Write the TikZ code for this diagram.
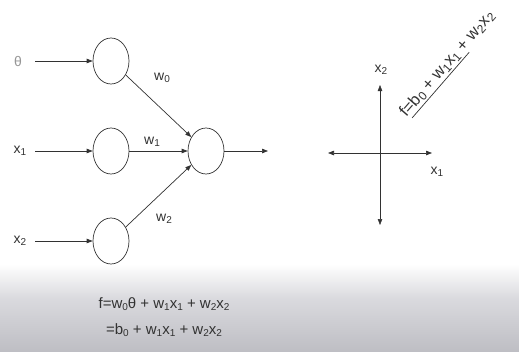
\documentclass[tikz,border=0pt]{standalone}
\usepackage{fontspec}
\setmainfont{Liberation Sans}
\usetikzlibrary{arrows.meta,shapes.geometric,calc}
\definecolor{ink}{RGB}{50,50,50}
\definecolor{lite}{RGB}{150,150,150}
\definecolor{bandA}{RGB}{218,218,222}
\definecolor{bandB}{RGB}{190,190,196}
\newcommand\sbx[1]{\raisebox{-0.3ex}{\fontsize{10}{10}\selectfont #1}}
\newcommand\sbd[1]{\raisebox{-0.3ex}{\fontsize{12}{12}\selectfont #1}}
\begin{document}
\begin{tikzpicture}[x=1pt,y=-1pt,
  neuron/.style={ellipse, draw=ink, line width=0.7pt, minimum width=36pt, minimum height=46pt, inner sep=0pt},
  lbl/.style={text=ink, font=\fontsize{14}{14}\selectfont, inner sep=1pt},
  tip/.style={-{Triangle[length=6pt,width=4.5pt]}},
  conn/.style={draw=ink, line width=0.7pt, tip}]
\useasboundingbox (0,0) rectangle (519,351);
\shade[top color=white, bottom color=bandA] (0,264) rectangle (519,298);
\shade[top color=bandA, bottom color=bandB] (0,298) rectangle (519,351);
% neurons
\node[neuron] (n0) at (111,61) {};
\node[neuron] (n1) at (111,151) {};
\node[neuron] (n2) at (111,241) {};
\node[neuron] (out) at (206,151) {};
% inputs
\node[lbl, text=lite] (t) at (18,61) {θ};
\node[lbl] (x1) at (20,151) {x\sbx{1}};
\node[lbl] (x2) at (20,241) {x\sbx{2}};
\coordinate (s0) at (35,61);
\coordinate (s1) at (35,151);
\coordinate (s2) at (35,241);
\draw[conn] (s0) -- (n0);
\draw[conn] (s1) -- (n1);
\draw[conn] (s2) -- (n2);
% weights
\draw[conn] (n0) -- (out);
\draw[conn] (n1) -- (out);
\draw[conn] (n2) -- (out);
\node[lbl] (w0) at (162,78) {w\sbx{0}};
\node[lbl] (w1) at (152,142) {w\sbx{1}};
\node[lbl] (w2) at (164,219) {w\sbx{2}};
\coordinate (o) at (268,151);
\draw[conn] (out) -- (o);
% axes
\coordinate (aL) at (328,153);
\coordinate (aR) at (432,153);
\coordinate (aT) at (380,85);
\coordinate (aB) at (380,225);
\draw[conn, {Triangle[length=6pt,width=4.5pt]}-{Triangle[length=6pt,width=4.5pt]}] (aL) -- (aR);
\draw[conn, line width=0.5pt, {Triangle[length=6pt,width=4.5pt]}-{Triangle[length=6pt,width=4.5pt]}] (aT) -- (aB);
\node[lbl] (ax2) at (381,70) {x\sbx{2}};
\node[lbl] (ax1) at (437,172) {x\sbx{1}};
% line equation
\node[lbl, rotate=49, inner sep=1.5pt, font=\fontsize{16.5}{16.5}\selectfont] (feq) at (447,64) {f=b\sbd{0} + w\sbd{1}x\sbd{1} + w\sbd{2}x\sbd{2}};
\draw[ink, line width=0.7pt] ($(feq.south west)!0.04!(feq.south east)$) coordinate (u1) -- ($(feq.south west)!0.67!(feq.south east)$) coordinate (u2);
% formula
\node[lbl, font=\fontsize{15}{15}\selectfont] (fa) at (164,304) {f=w\sbx{0}θ + w\sbx{1}x\sbx{1} + w\sbx{2}x\sbx{2}};
\node[lbl, font=\fontsize{15}{15}\selectfont] (fb) at (164,330) {=b\sbx{0} + w\sbx{1}x\sbx{1} + w\sbx{2}x\sbx{2}};
\end{tikzpicture}
\end{document}
